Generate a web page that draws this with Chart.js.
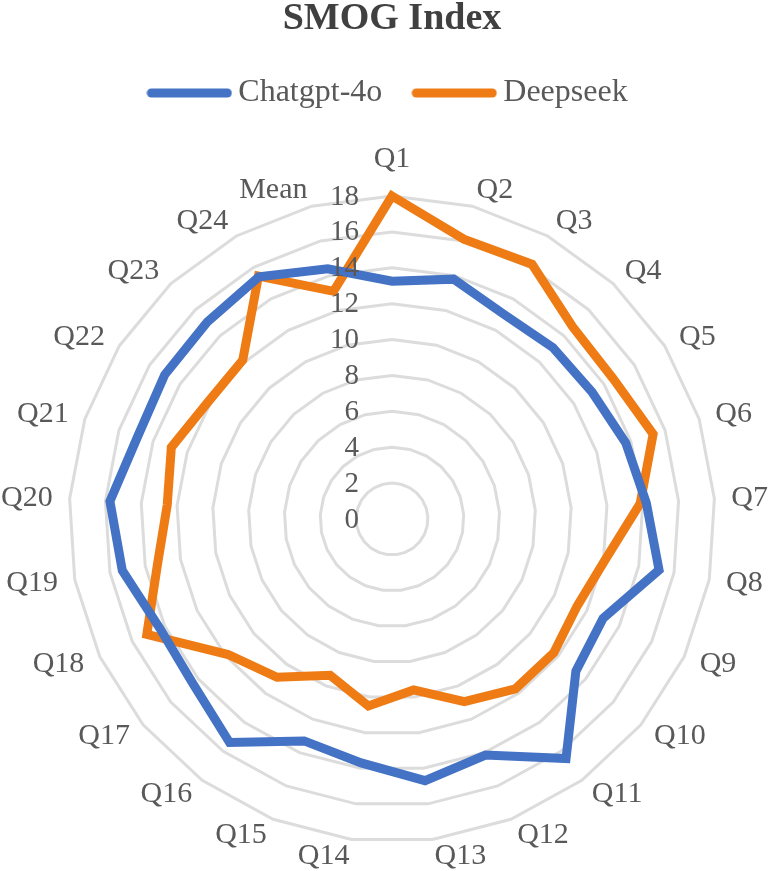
<!DOCTYPE html>
<html>
<head>
<meta charset="utf-8">
<script src="https://cdn.jsdelivr.net/npm/chart.js"></script>
<style>
  html, body { margin: 0; padding: 0; background: #fff; }
  #frame { width: 771px; height: 871px; overflow: hidden; }
  #box { position: relative; width: 771px; height: 920px; }
</style>
</head>
<body>
<div id="frame"><div id="box"><canvas id="smogChart"></canvas></div></div>
<script>
    // values
    var questions = ['Q1', 'Q2', 'Q3', 'Q4', 'Q5', 'Q6', 'Q7', 'Q8', 'Q9', 'Q10', 'Q11', 'Q12',
                     'Q13', 'Q14', 'Q15', 'Q16', 'Q17', 'Q18', 'Q19', 'Q20', 'Q21', 'Q22', 'Q23', 'Q24', 'Mean'];
    var chatgpt = [13.25, 13.8, 13.0, 13.1, 13.2, 13.7, 14.2, 15.15, 13.0, 13.3, 16.5, 14.15,
                   14.7, 13.7, 13.3, 15.4, 14.4, 14.3, 15.3, 15.75, 14.9, 15.0, 15.05, 15.4, 14.4];
    var deepseek = [18.0, 16.1, 16.2, 14.7, 14.6, 15.3, 13.86, 12.1, 11.4, 11.7, 11.7, 10.95,
                    9.6, 10.5, 9.37, 10.9, 11.85, 15.1, 13.3, 12.55, 12.93, 12.15, 12.15, 15.45, 13.1];
    var tickValues = [0, 2, 4, 6, 8, 10, 12, 14, 16, 18];

    var serif = "'Liberation Serif', 'Times New Roman', serif";
    var grey = '#595959';
    var blue = '#4472C4';
    var orange = '#EE7B14';

    // rounded line used as legend marker (a bit wider than the box so the text sits close)
    function legendLine(color) {
        var c = document.createElement('canvas');
        c.width = 86; c.height = 12;
        var g = c.getContext('2d');
        g.strokeStyle = color;
        g.lineWidth = 9;
        g.lineCap = 'round';
        g.beginPath(); g.moveTo(5, 6); g.lineTo(81, 6); g.stroke();
        return c;
    }
    var legendMarks = [legendLine(blue), legendLine(orange)];

    // tick labels sit to the left of the vertical axis, right aligned (Excel style)
    var tickText = {
        id: 'tickText',
        afterDatasetsDraw: function (chart) {
            var r = chart.scales.r, ctx = chart.ctx;
            ctx.save();
            ctx.font = '29px ' + serif;
            ctx.fillStyle = grey;
            ctx.textAlign = 'right';
            ctx.textBaseline = 'middle';
            r.ticks.forEach(function (t) {
                var y = r.yCenter - r.getDistanceFromCenterForValue(t.value);
                ctx.fillText(t.label, r.xCenter - 33, y + 1);
            });
            ctx.restore();
        }
    };

    // category labels round the web
    var pointText = {
        id: 'pointText',
        afterDraw: function (chart) {
            var r = chart.scales.r, ctx = chart.ctx;
            ctx.save();
            ctx.font = '30px ' + serif;
            ctx.fillStyle = grey;
            ctx.textBaseline = 'middle';
            chart.data.labels.forEach(function (lab, i) {
                var p = r.getPointPosition(i, r.drawingArea + (i === 0 ? 37 : 17));
                var s = Math.sin(p.angle + Math.PI / 2);
                ctx.textAlign = Math.abs(s) < 0.01 ? 'center' : (s > 0 ? 'left' : 'right');
                ctx.fillText(lab, p.x, p.y);
            });
            ctx.restore();
        }
    };

    var ctx = document.getElementById('smogChart').getContext('2d');
    var smogChart = new Chart(ctx, {
        type: 'radar',
        data: {
            labels: questions,
            datasets: [{
                label: 'Chatgpt-4o',
                data: chatgpt,
                borderColor: blue,
                backgroundColor: blue,
                borderWidth: 9,
                pointRadius: 0,
                fill: false
            }, {
                label: 'Deepseek',
                data: deepseek,
                borderColor: orange,
                backgroundColor: orange,
                borderWidth: 9,
                pointRadius: 0,
                fill: false
            }]
        },
        options: {
            responsive: true,
            maintainAspectRatio: false,
            animation: false,
            layout: { padding: { left: 69, right: 56, top: 0, bottom: 0 } },
            scales: {
                r: {
                    min: 0,
                    max: 18,
                    afterBuildTicks: function (scale) {
                        scale.ticks = tickValues.map(function (v) { return { value: v }; });
                    },
                    ticks: { display: false },
                    grid: { color: '#DCDCDC', lineWidth: 3 },
                    angleLines: { display: false },
                    pointLabels: { display: false }
                }
            },
            plugins: {
                title: {
                    display: true,
                    text: 'SMOG Index',
                    color: '#404040',
                    font: { family: serif, size: 38, weight: 'bold', lineHeight: 1 },
                    padding: { top: 0, bottom: 0 }
                },
                legend: {
                    position: 'top',
                    labels: {
                        color: grey,
                        font: { family: serif, size: 32 },
                        usePointStyle: true,
                        pointStyleWidth: 66,
                        padding: 39,
                        generateLabels: function (chart) {
                            var items = Chart.defaults.plugins.legend.labels.generateLabels(chart);
                            items.forEach(function (it) { it.pointStyle = legendMarks[it.datasetIndex]; });
                            return items;
                        }
                    }
                },
                tooltip: { enabled: false }
            }
        },
        plugins: [tickText, pointText]
    });
</script>
</body>
</html>
